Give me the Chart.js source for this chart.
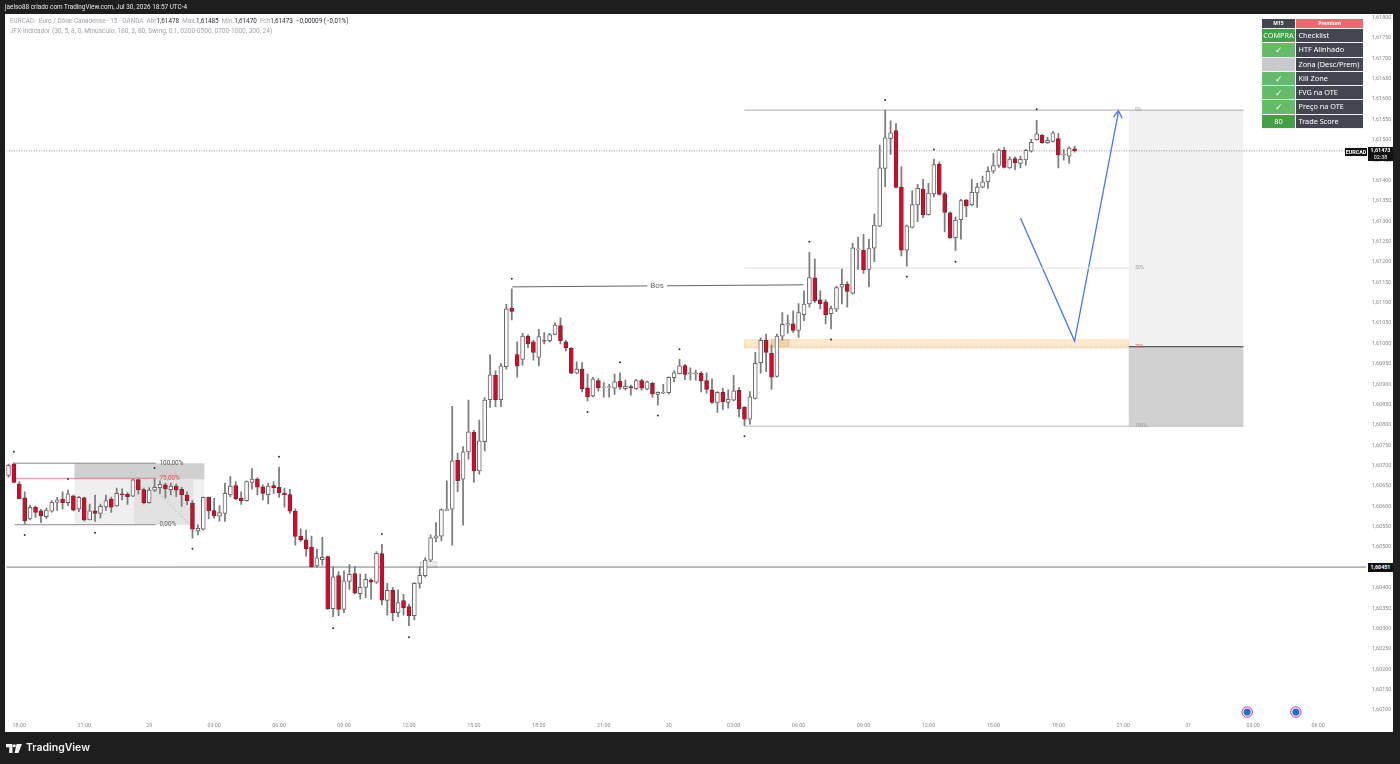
<!DOCTYPE html>
<html>
<head>
<meta charset="utf-8">
<title>EURCAD 15</title>
<script src="https://cdn.jsdelivr.net/npm/chart.js@4/dist/chart.umd.min.js"></script>
<style>
  html, body { margin: 0; padding: 0; background: #1e1e1e; }
  body { width: 1400px; height: 764px; overflow: hidden; position: relative; font-family: Roboto, sans-serif; }
  canvas { position: absolute; left: 0; top: 0; }
  .abs { position: absolute; white-space: nowrap; }
  .top-note { left: 5px; top: 3px; font-size: 6.4px; line-height: 8px; color: #e8e8e8; }
  .legend { left: 10px; font-size: 6.35px; line-height: 8px; color: #a0a3ab; }
  .legend b { font-weight: 400; color: #2a2e39; }
  .brand { left: 26px; top: 740px; font: 600 10.5px/16px Inter, Roboto, sans-serif; color: #f2f2f2; }
  .logo { left: 6px; top: 744px; }
  .tag { background: #111; color: #fff; text-align: center; font-size: 5.4px; font-weight: 700; }
  .check { position: absolute; left: 1262px; top: 19px; width: 101px; display: grid; grid-template-columns: 33px 67px; column-gap: 1px;
    grid-template-rows: 10px repeat(7, 14.28px); font: 400 7.3px/13.6px "Noto Sans", sans-serif; color: #fff; }
  .check div { border-bottom: 0.6px solid #f4f4f4; box-sizing: border-box; }
  .check .head { font-size: 5px; font-weight: 700; line-height: 9px; text-align: center; }
  .check .k { text-align: center; }
  .check .v { background: #434651; padding-left: 2.5px; }
  .check .go { background: #66bb6a; font-size: 9px; }
  .check .hi { background: #43a047; }
  .check .no { background: #c8c9cc; color: #d4d5d8; }
</style>
</head>
<body>
<canvas id="chart" width="1400" height="764"></canvas>

<div class="abs top-note">jaelso88 criado com TradingView.com, Jul 30, 2026 18:57 UTC-4</div>
<div class="abs legend" style="top:17px">EURCAD · Euro / Dólar Canadense · 15 · OANDA &nbsp;Abr<b>1,61478</b> &nbsp;Máx.<b>1,61485</b> &nbsp;Mín.<b>1,61470</b> &nbsp;Fch<b>1,61473</b> &nbsp;<b>−0,00009 (−0,01%)</b></div>
<div class="abs legend" style="top:27px;font-size:6.55px">JFX Indicador (30, 5, 8, 0, Minúsculo, 180, 3, 80, Swing, 0,1, 0200-0500, 0700-1000, 300, 24)</div>

<div class="check">
  <div class="head" style="background:#434651">M15</div><div class="head" style="background:#f2666f">Premium</div>
  <div class="k hi">COMPRA</div><div class="v">Checklist</div>
  <div class="k go">✓</div><div class="v">HTF Alinhado</div>
  <div class="k no">○</div><div class="v">Zona (Desc/Prem)</div>
  <div class="k go">✓</div><div class="v">Kill Zone</div>
  <div class="k go">✓</div><div class="v">FVG na OTE</div>
  <div class="k go">✓</div><div class="v">Preço na OTE</div>
  <div class="k hi">80</div><div class="v">Trade Score</div>
</div>

<div class="abs tag" style="left:1345px;top:148px;width:22px;height:8px;line-height:8px">EURCAD</div>
<div class="abs tag" style="left:1368px;top:147px;width:25px;height:14px;line-height:7px">1,61473<br><span style="font-weight:400">02:38</span></div>
<div class="abs tag" style="left:1368px;top:563px;width:25px;height:9px;line-height:9px">1,60451</div>

<svg class="abs logo" width="16" height="10" viewBox="0 0 16 10">
  <path d="M0 0h6.5v9H3.2V3.2H0z M10.5 0h5.5l-3.6 9H8.6z" fill="#f2f2f2"/>
  <circle cx="8.3" cy="1.7" r="1.5" fill="#f2f2f2"/>
</svg>
<div class="abs brand">TradingView</div>

<script>
// EURCAD 15m candles
const opens = [
  1.60676,1.60704,1.60655,1.60621,1.60569,1.60598,1.60589,1.60575,1.60588,1.60610,
  1.60618,1.60609,1.60626,1.60594,1.60621,1.60567,1.60589,1.60583,1.60599,1.60618,
  1.60601,1.60631,1.60630,1.60625,1.60666,1.60641,1.60609,1.60640,1.60646,1.60653,
  1.60641,1.60650,1.60642,1.60628,1.60608,1.60540,1.60544,1.60623,1.60590,1.60576,
  1.60583,1.60628,1.60651,1.60620,1.60614,1.60659,1.60667,1.60648,1.60629,1.60651,
  1.60647,1.60633,1.60629,1.60588,1.60527,1.60518,1.60500,1.60454,1.60469,1.60477,
  1.60349,1.60430,1.60347,1.60416,1.60435,1.60386,1.60401,1.60419,1.60414,1.60484,
  1.60369,1.60394,1.60339,1.60369,1.60354,1.60332,1.60411,1.60430,1.60468,1.60522,
  1.60527,1.60590,1.60593,1.60713,1.60667,1.60734,1.60782,1.60687,1.60759,1.60862,
  1.60922,1.60862,1.60943,1.61087,1.60973,1.60961,1.61018,1.61004,1.60966,1.61007,
  1.61007,1.61022,1.61044,1.61004,1.60988,1.60927,1.60937,1.60891,1.60871,1.60909,
  1.60892,1.60892,1.60890,1.60907,1.60889,1.60894,1.60889,1.60909,1.60888,1.60902,
  1.60875,1.60878,1.60879,1.60916,1.60926,1.60946,1.60926,1.60926,1.60927,1.60909,
  1.60886,1.60855,1.60880,1.60855,1.60861,1.60885,1.60843,1.60814,1.60865,1.60953,
  1.61008,1.60976,1.60919,1.61018,1.61045,1.61048,1.61032,1.61071,1.61097,1.61161,
  1.61107,1.61102,1.61073,1.61084,1.61138,1.61146,1.61123,1.61230,1.61229,1.61182,
  1.61234,1.61288,1.61430,1.61503,1.61523,1.61384,1.61229,1.61285,1.61340,1.61379,
  1.61316,1.61367,1.61440,1.61368,1.61321,1.61260,1.61304,1.61352,1.61340,1.61370,
  1.61384,1.61397,1.61423,1.61437,1.61474,1.61431,1.61454,1.61442,1.61451,1.61472,
  1.61500,1.61512,1.61493,1.61496,1.61503,1.61463,1.61460,1.61478
];
const highs = [
  1.60704,1.60707,1.60661,1.60636,1.60603,1.60601,1.60593,1.60596,1.60614,1.60622,
  1.60636,1.60640,1.60628,1.60625,1.60623,1.60606,1.60628,1.60606,1.60628,1.60623,
  1.60645,1.60643,1.60634,1.60667,1.60667,1.60645,1.60646,1.60669,1.60663,1.60657,
  1.60657,1.60655,1.60647,1.60636,1.60614,1.60555,1.60623,1.60623,1.60620,1.60602,
  1.60657,1.60673,1.60661,1.60636,1.60663,1.60693,1.60671,1.60653,1.60657,1.60661,
  1.60696,1.60645,1.60642,1.60594,1.60545,1.60542,1.60527,1.60495,1.60524,1.60478,
  1.60452,1.60440,1.60442,1.60457,1.60452,1.60434,1.60434,1.60423,1.60489,1.60507,
  1.60411,1.60401,1.60395,1.60384,1.60360,1.60413,1.60452,1.60474,1.60530,1.60560,
  1.60594,1.60663,1.60846,1.60731,1.60747,1.60861,1.60787,1.60812,1.60867,1.60972,
  1.60933,1.60951,1.61096,1.61134,1.61004,1.61025,1.61021,1.61008,1.61035,1.61027,
  1.61025,1.61051,1.61063,1.61008,1.60990,1.60955,1.60953,1.60925,1.60917,1.60914,
  1.60904,1.60900,1.60925,1.60928,1.60910,1.60898,1.60912,1.60912,1.60908,1.60905,
  1.60881,1.60900,1.60918,1.60933,1.60961,1.60949,1.60940,1.60935,1.60931,1.60928,
  1.60913,1.60882,1.60890,1.60886,1.60922,1.60892,1.60845,1.60882,1.60978,1.61014,
  1.61023,1.60996,1.61023,1.61076,1.61070,1.61080,1.61098,1.61129,1.61224,1.61207,
  1.61129,1.61108,1.61092,1.61141,1.61183,1.61152,1.61246,1.61261,1.61268,1.61256,
  1.61318,1.61487,1.61573,1.61547,1.61540,1.61434,1.61291,1.61375,1.61391,1.61403,
  1.61393,1.61453,1.61446,1.61372,1.61323,1.61311,1.61354,1.61354,1.61403,1.61393,
  1.61411,1.61434,1.61467,1.61478,1.61481,1.61458,1.61458,1.61460,1.61477,1.61501,
  1.61548,1.61513,1.61507,1.61520,1.61516,1.61476,1.61483,1.61485
];
const lows = [
  1.60672,1.60659,1.60619,1.60556,1.60567,1.60573,1.60560,1.60570,1.60586,1.60590,
  1.60593,1.60601,1.60589,1.60587,1.60564,1.60567,1.60563,1.60571,1.60590,1.60585,
  1.60600,1.60616,1.60605,1.60624,1.60630,1.60606,1.60608,1.60636,1.60632,1.60621,
  1.60628,1.60624,1.60600,1.60604,1.60522,1.60530,1.60542,1.60569,1.60571,1.60564,
  1.60563,1.60624,1.60616,1.60605,1.60613,1.60642,1.60628,1.60616,1.60606,1.60632,
  1.60622,1.60598,1.60583,1.60505,1.60514,1.60478,1.60451,1.60451,1.60456,1.60347,
  1.60329,1.60332,1.60339,1.60396,1.60385,1.60372,1.60376,1.60372,1.60411,1.60358,
  1.60333,1.60319,1.60329,1.60333,1.60307,1.60321,1.60399,1.60427,1.60464,1.60513,
  1.60515,1.60590,1.60505,1.60636,1.60554,1.60716,1.60659,1.60679,1.60736,1.60843,
  1.60845,1.60845,1.60937,1.61058,1.60917,1.60947,1.60990,1.60959,1.60945,1.60999,
  1.61004,1.61021,1.60999,1.60982,1.60926,1.60925,1.60881,1.60859,1.60869,1.60883,
  1.60868,1.60868,1.60875,1.60887,1.60886,1.60873,1.60887,1.60886,1.60886,1.60868,
  1.60849,1.60876,1.60876,1.60906,1.60925,1.60911,1.60910,1.60910,1.60881,1.60878,
  1.60853,1.60831,1.60838,1.60841,1.60859,1.60820,1.60798,1.60802,1.60863,1.60927,
  1.60931,1.60887,1.60917,1.61008,1.61025,1.61027,1.61015,1.61056,1.61089,1.61100,
  1.61085,1.61048,1.61036,1.61078,1.61097,1.61089,1.61121,1.61182,1.61172,1.61139,
  1.61201,1.61287,1.61385,1.61464,1.61382,1.61215,1.61190,1.61284,1.61299,1.61309,
  1.61315,1.61360,1.61364,1.61274,1.61258,1.61228,1.61256,1.61311,1.61338,1.61334,
  1.61382,1.61381,1.61418,1.61432,1.61431,1.61430,1.61427,1.61431,1.61438,1.61470,
  1.61499,1.61491,1.61491,1.61495,1.61431,1.61450,1.61442,1.61470
];
const closes = [
  1.60701,1.60659,1.60619,1.60565,1.60598,1.60585,1.60577,1.60591,1.60610,1.60616,
  1.60609,1.60631,1.60591,1.60622,1.60567,1.60589,1.60583,1.60600,1.60614,1.60598,
  1.60632,1.60629,1.60624,1.60665,1.60641,1.60609,1.60640,1.60647,1.60654,1.60643,
  1.60650,1.60640,1.60629,1.60614,1.60544,1.60546,1.60622,1.60589,1.60577,1.60585,
  1.60632,1.60650,1.60619,1.60614,1.60661,1.60667,1.60647,1.60632,1.60650,1.60646,
  1.60634,1.60629,1.60588,1.60526,1.60518,1.60496,1.60452,1.60474,1.60475,1.60349,
  1.60427,1.60347,1.60417,1.60433,1.60387,1.60401,1.60421,1.60414,1.60485,1.60370,
  1.60394,1.60339,1.60364,1.60351,1.60331,1.60411,1.60431,1.60468,1.60523,1.60528,
  1.60592,1.60593,1.60712,1.60663,1.60734,1.60783,1.60687,1.60761,1.60861,1.60923,
  1.60862,1.60945,1.61085,1.61079,1.60945,1.61018,1.60999,1.60978,1.61017,1.61006,
  1.61022,1.61045,1.61007,1.60989,1.60927,1.60937,1.60889,1.60869,1.60913,1.60891,
  1.60893,1.60894,1.60906,1.60893,1.60895,1.60891,1.60909,1.60890,1.60906,1.60876,
  1.60880,1.60880,1.60917,1.60928,1.60945,1.60924,1.60928,1.60928,1.60909,1.60887,
  1.60855,1.60880,1.60857,1.60863,1.60884,1.60840,1.60814,1.60869,1.60951,1.61008,
  1.60978,1.60917,1.61018,1.61047,1.61049,1.61032,1.61076,1.61097,1.61162,1.61105,
  1.61098,1.61071,1.61086,1.61137,1.61145,1.61128,1.61235,1.61232,1.61181,1.61233,
  1.61291,1.61431,1.61505,1.61517,1.61383,1.61229,1.61289,1.61341,1.61381,1.61316,
  1.61369,1.61439,1.61366,1.61322,1.61260,1.61303,1.61351,1.61338,1.61371,1.61384,
  1.61397,1.61423,1.61437,1.61475,1.61432,1.61453,1.61444,1.61452,1.61474,1.61494,
  1.61515,1.61493,1.61499,1.61517,1.61463,1.61465,1.61480,1.61473
];

const timeTickBars = [2,14,26,38,50,62,74,86,98,110,122,134,146,158,170,182,194,206,218,230,242];
const timeTickLabels = ["18:00","21:00","29","03:00","06:00","09:00","12:00","15:00","18:00","21:00","30","03:00","06:00","09:00","12:00","15:00","18:00","21:00","31","03:00","06:00"];
const priceTicks = [1.601,1.6015,1.602,1.6025,1.603,1.6035,1.604,1.6045,1.605,1.6055,1.606,1.6065,1.607,1.6075,1.608,1.6085,1.609,1.6095,1.61,1.6105,1.611,1.6115,1.612,1.6125,1.613,1.6135,1.614,1.6145,1.615,1.6155,1.616,1.6165,1.617,1.6175,1.618];

// swing markers from the indicator
const swingBars = [1,3,11,16,27,34,50,60,69,74,93,107,113,120,124,136,148,152,162,166,171,175,190];
const swingPrices = [1.60734,1.6053,1.60667,1.60535,1.60694,1.60496,1.60722,1.60301,1.60532,1.60279,1.61159,1.60832,1.60954,1.60823,1.60986,1.60772,1.6125,1.6101,1.61598,1.61164,1.61476,1.61201,1.61575];

const eventBars = [228.9, 237.9];
const eventPrices = [1.60095, 1.60095];

const xMin = -0.4;
const xMax = 250.85;
const lastPrice = 1.61473;
const levelPrice = 1.60451;

// projected path and its arrow head
const pathBars = [187, 197, 205.1];
const pathPrices = [1.61308, 1.61006, 1.61568];
const arrowBars = [204.2, 205.1, 205.8];
const arrowPrices = [1.61556, 1.61572, 1.61553];

const boxes = [
  { x0: 12.2, x1: 36.2, top: 1.60706, bottom: 1.60666, fill: "#d0d0d0" },
  { x0: 12.2, x1: 23.2, top: 1.60665, bottom: 1.60555, fill: "#efefef" },
  { x0: 23.2, x1: 34.1, top: 1.60665, bottom: 1.60555, fill: "#e2e2e2" },
  { x0: 34.1, x1: 36.2, top: 1.60665, bottom: 1.60535, fill: "#f2f2f2" },
  { x0: 207, x1: 228.2, top: 1.61573, bottom: 1.60992, fill: "#f1f1f1" },
  { x0: 207, x1: 228.2, top: 1.60992, bottom: 1.60797, fill: "#d1d1d1" },
  { x0: 136, x1: 207, top: 1.61009, bottom: 1.60989, fill: "#fee8cd", edge: "#f9d3a4" },
  { x0: 141, x1: 144.2, top: 1.61009, bottom: 1.60993, fill: "#f3d3aa", edge: "#c9b08f" },
  { x0: 76.1, x1: 79.2, top: 1.60464, bottom: 1.60451, fill: "#ececec", edge: "#c4c4c4" },
];

const notes = [
  { text: "100,00%", bar: 27.9, price: 1.60706, color: "#555", size: 6.4 },
  { text: "75,00%", bar: 27.9, price: 1.60669, color: "#d9534f", size: 6.4 },
  { text: "0,00%", bar: 27.9, price: 1.60555, color: "#666", size: 6.4 },
  { text: "0%", bar: 208.2, price: 1.61573, color: "#999", size: 4.8 },
  { text: "50%", bar: 208.2, price: 1.61185, color: "#999", size: 4.8 },
  { text: "79%", bar: 208.2, price: 1.60992, color: "#e05a5a", size: 4.8 },
  { text: "100%", bar: 208.2, price: 1.60797, color: "#999", size: 4.8 },
  { text: "Bos", bar: 118.6, price: 1.61141, color: "#666", size: 8, clear: true },
];

function seg(xs, ys, color, width, dash) {
  return {
    type: "line",
    data: xs.map((x, i) => ({ x, y: ys[i] })),
    borderColor: color,
    borderWidth: width,
    borderDash: dash || [],
    pointRadius: 0,
    tension: 0,
    order: 5,
  };
}

const upBars = [];
const downBars = [];
const wicks = [];
opens.forEach((o, i) => {
  wicks.push({ x: i, y: [lows[i], highs[i]] });
  (closes[i] >= o ? upBars : downBars).push({ x: i, y: [o, closes[i]] });
});

function barSet(data, thickness, fill, edge, width, order) {
  return {
    type: "bar",
    data,
    grouped: false,
    barThickness: thickness,
    backgroundColor: fill,
    borderColor: edge,
    borderWidth: width,
    borderSkipped: false,
    order,
  };
}

const overlay = {
  id: "overlay",
  beforeDraw(c) {
    const ctx = c.ctx;
    ctx.save();
    ctx.fillStyle = "#fff";
    ctx.fillRect(5, 14, 1388, 718);
    ctx.restore();
  },
  beforeDatasetsDraw(c) {
    const ctx = c.ctx;
    const x = c.scales.x;
    const y = c.scales.y;
    ctx.save();
    for (const b of boxes) {
      const left = x.getPixelForValue(b.x0);
      const top = y.getPixelForValue(b.top);
      const w = x.getPixelForValue(b.x1) - left;
      const h = y.getPixelForValue(b.bottom) - top;
      ctx.fillStyle = b.fill;
      ctx.fillRect(left, top, w, h);
      if (b.edge) {
        ctx.strokeStyle = b.edge;
        ctx.lineWidth = 0.6;
        ctx.strokeRect(left, top, w, h);
      }
    }
    ctx.restore();
  },
  afterDatasetsDraw(c) {
    const ctx = c.ctx;
    const x = c.scales.x;
    const y = c.scales.y;
    ctx.save();
    ctx.textBaseline = "middle";
    for (const n of notes) {
      const px = x.getPixelForValue(n.bar);
      const py = y.getPixelForValue(n.price);
      ctx.font = n.size + "px Roboto, sans-serif";
      if (n.clear) {
        const w = ctx.measureText(n.text).width;
        ctx.fillStyle = "#fff";
        ctx.fillRect(px - 3, py - 4, w + 6, 8);
      }
      ctx.fillStyle = n.color;
      ctx.fillText(n.text, px, py);
    }
    ctx.restore();
  },
};

new Chart(document.getElementById("chart"), {
  type: "bar",
  data: {
    datasets: [
      seg([xMin, xMax], [lastPrice, lastPrice], "#707070", 0.8, [1, 1.5]),
      seg([xMin, xMax], [levelPrice, levelPrice], "#5a5a5a", 0.8),
      // small fib on the left
      seg([1.13, 27.2], [1.60706, 1.60706], "#8a8a8a", 1),
      seg([1.13, 27.2], [1.60669, 1.60669], "#e57373", 0.8),
      seg([1.13, 27.2], [1.60555, 1.60555], "#8a8a8a", 1),
      seg([27.2, 34.1], [1.6064, 1.60547], "#aaa", 0.8, [2, 2]),
      // large fib on the right
      seg([136, 228.2], [1.61573, 1.61573], "#a0a0a0", 0.9),
      seg([136, 207], [1.61185, 1.61185], "#e6e6e6", 1.2),
      seg([136, 207], [1.60992, 1.60992], "#f6c28c", 0.6, [3, 2]),
      seg([207, 228.2], [1.60992, 1.60992], "#333", 1),
      seg([136, 228.2], [1.60797, 1.60797], "#bdbdbd", 1),
      seg([93.1, 146.9], [1.61139, 1.61144], "#555", 0.9),
      seg(pathBars, pathPrices, "#4a78e0", 1.3),
      seg(arrowBars, arrowPrices, "#4a78e0", 1.3),
      barSet(wicks, 1.1, "#7c7c7c", "#7c7c7c", 0, 3),
      barSet(upBars, 4, "#fbfbfb", "#686868", 1, 2),
      barSet(downBars, 4, "#c8102e", "#7a2430", 0.8, 2),
      {
        type: "scatter",
        data: swingBars.map((b, i) => ({ x: b, y: swingPrices[i] })),
        pointStyle: "circle",
        pointRadius: 1,
        backgroundColor: "#333",
        borderWidth: 0,
        order: 1,
      },
      {
        type: "scatter",
        data: eventBars.map((b, i) => ({ x: b, y: eventPrices[i] })),
        pointRadius: 5.3,
        backgroundColor: "#d9d9e6",
        borderColor: "#e0489a",
        borderWidth: 1,
        order: 1,
      },
      {
        type: "scatter",
        data: eventBars.map((b, i) => ({ x: b, y: eventPrices[i] })),
        pointRadius: 3.4,
        backgroundColor: "#1b6fc2",
        borderWidth: 0,
        order: 0,
      },
    ],
  },
  options: {
    responsive: false,
    animation: false,
    events: [],
    layout: { padding: { left: 3, top: 14, right: 7, bottom: 32 } },
    plugins: { legend: { display: false }, tooltip: { enabled: false } },
    scales: {
      x: {
        type: "linear",
        position: "bottom",
        min: xMin,
        max: xMax,
        offset: false,
        grid: { display: false, drawTicks: false },
        border: { display: false },
        afterBuildTicks(scale) {
          scale.ticks = timeTickBars.map((value) => ({ value }));
        },
        afterFit(scale) {
          scale.height = 13;
        },
        ticks: {
          autoSkip: false,
          maxRotation: 0,
          padding: 3,
          color: "#8a8a8a",
          font: { size: 5.4, family: "Roboto" },
          callback: (v) => timeTickLabels[timeTickBars.indexOf(v)],
        },
      },
      y: {
        type: "linear",
        position: "right",
        min: 1.60078,
        max: 1.61809,
        grid: { display: false, drawTicks: false },
        border: { display: false },
        afterBuildTicks(scale) {
          scale.ticks = priceTicks.map((value) => ({ value }));
        },
        afterFit(scale) {
          scale.width = 27;
        },
        ticks: {
          autoSkip: false,
          padding: 6,
          color: "#8a8a8a",
          font: { size: 5.4, family: "Roboto" },
          callback: (v) => v.toFixed(5).replace(".", ","),
        },
      },
    },
  },
  plugins: [overlay],
});
</script>
</body>
</html>
